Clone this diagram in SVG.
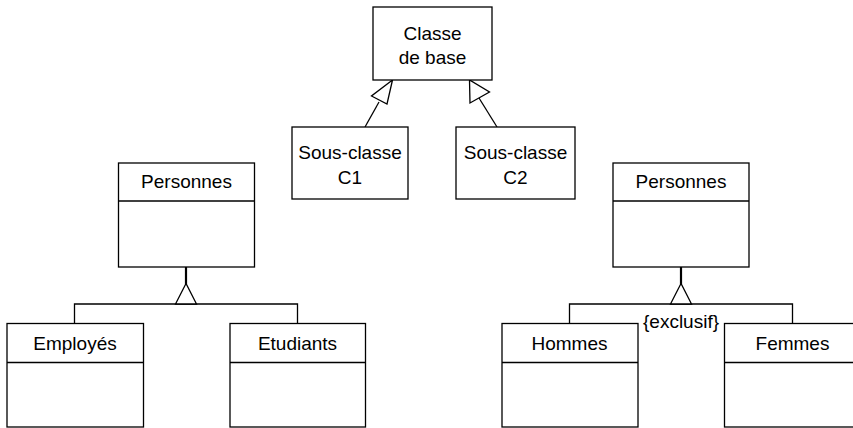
<svg xmlns="http://www.w3.org/2000/svg" width="853" height="428" viewBox="0 0 853 428">
  <style>
    .box { fill: #fff; stroke: #000; stroke-width: 1.3; }
    .sep { stroke: #000; stroke-width: 1.3; }
    .lbl { font-family: "Liberation Sans", Arial, sans-serif; font-size: 19px; fill: #000; text-anchor: middle; }
    .wire { fill: none; stroke: #000; stroke-width: 1.3; }
    .stem { fill: none; stroke: #000; stroke-width: 2.2; }
    .head { fill: #fff; stroke: #000; stroke-width: 1.3; stroke-linejoin: miter; }
  </style>

  <!-- connectors -->
  <g id="connectors">
    <!-- C1 -> Classe de base -->
    <line class="wire" x1="365" y1="127" x2="379" y2="102"/>
    <polygon class="head" points="392.5,80 371.5,96 387,104"/>
    <!-- C2 -> Classe de base -->
    <line class="wire" x1="497" y1="127" x2="479" y2="98"/>
    <polygon class="head" points="469.5,80 470,103 489.5,92"/>

    <!-- Personnes (left) generalisation tree -->
    <line class="stem" x1="186" y1="267" x2="186" y2="284"/>
    <polyline class="wire" points="74.5,323.5 74.5,304 297.5,304 297.5,323.5"/>
    <polygon class="head" points="186,283.5 175.5,304 196.5,304"/>

    <!-- Personnes (right) generalisation tree -->
    <line class="stem" x1="681" y1="267" x2="681" y2="284"/>
    <polyline class="wire" points="569.5,323.5 569.5,304 792.5,304 792.5,323.5"/>
    <polygon class="head" points="681,283.5 670.5,304 691.5,304"/>
  </g>

  <g id="classe-de-base">
    <rect class="box" x="373" y="7" width="119" height="73"/>
    <text class="lbl" x="432.5" y="40">Classe</text>
    <text class="lbl" x="432.5" y="64">de base</text>
  </g>

  <g id="sous-classe-c1">
    <rect class="box" x="292" y="127" width="116" height="72"/>
    <text class="lbl" x="350" y="159">Sous-classe</text>
    <text class="lbl" x="350" y="184">C1</text>
  </g>

  <g id="sous-classe-c2">
    <rect class="box" x="456" y="127" width="119" height="72"/>
    <text class="lbl" x="515.5" y="159">Sous-classe</text>
    <text class="lbl" x="515.5" y="184">C2</text>
  </g>

  <g id="personnes-gauche">
    <rect class="box" x="118.5" y="163" width="136" height="104"/>
    <line class="sep" x1="118.5" y1="201" x2="254.5" y2="201"/>
    <text class="lbl" x="186.5" y="188">Personnes</text>
  </g>

  <g id="employes">
    <rect class="box" x="7" y="323.5" width="136.5" height="103.5"/>
    <line class="sep" x1="7" y1="362.5" x2="143.5" y2="362.5"/>
    <text class="lbl" x="75" y="350">Employés</text>
  </g>

  <g id="etudiants">
    <rect class="box" x="230" y="323.5" width="135.5" height="103.5"/>
    <line class="sep" x1="230" y1="362.5" x2="365.5" y2="362.5"/>
    <text class="lbl" x="297.5" y="350">Etudiants</text>
  </g>

  <g id="personnes-droite">
    <rect class="box" x="613" y="163" width="136" height="104"/>
    <line class="sep" x1="613" y1="201" x2="749" y2="201"/>
    <text class="lbl" x="681" y="188">Personnes</text>
  </g>

  <g id="hommes">
    <rect class="box" x="502" y="323.5" width="136" height="103.5"/>
    <line class="sep" x1="502" y1="362.5" x2="638" y2="362.5"/>
    <text class="lbl" x="569.5" y="350">Hommes</text>
  </g>

  <g id="femmes">
    <rect class="box" x="724.5" y="323.5" width="140" height="103.5"/>
    <line class="sep" x1="724.5" y1="362.5" x2="864.5" y2="362.5"/>
    <text class="lbl" x="792.5" y="350">Femmes</text>
  </g>

  <g id="contrainte">
    <text class="lbl" x="681" y="328">{exclusif}</text>
  </g>
</svg>
